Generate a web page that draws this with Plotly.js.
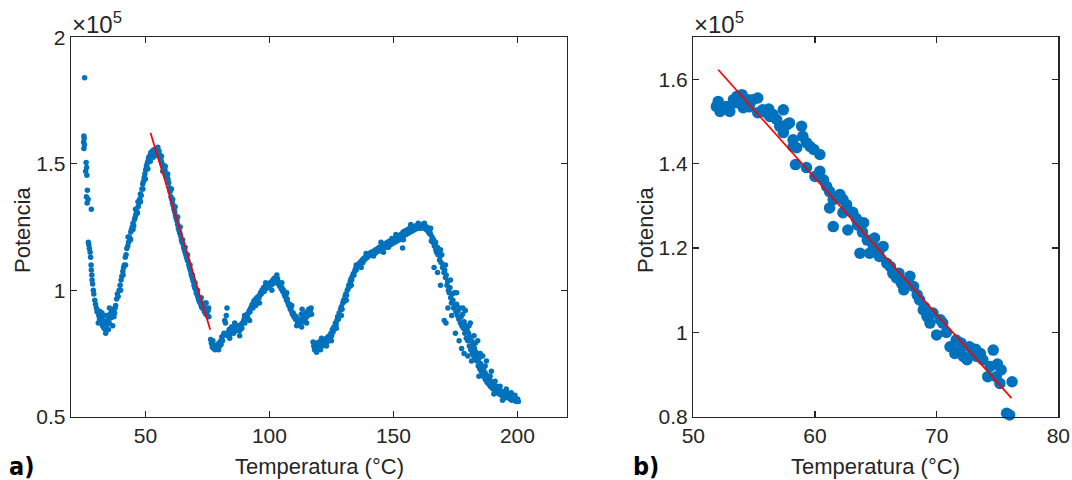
<!DOCTYPE html>
<html>
<head>
<meta charset="utf-8">
<script src="https://cdn.plot.ly/plotly-3.0.1.min.js"></script>
<style>html,body{margin:0;padding:0;background:#fff;}#chart{width:1072px;height:480px;}</style>
</head>
<body>
<div id="chart"></div>
<script>
// ---- Panel a): full scan (Potencia in units of 1e5) ----
const tempA1 = [
 25.5,25.2,25.3,25.1,25.4,25.2,26.1,26.3,25.9,26.4,
 26.6,26.2,26.9,26.5,28.2,27.0,27.2,27.4,27.7,27.9,
 28.1,28.2,28.4,28.5,28.7,29.0,29.2,29.6,29.9,30.2,
 30.5,30.9,31.2,31.5,31.8,32.1,32.4,32.7,33.0,33.3,
 33.6,33.9,34.2,34.5,34.8,35.1,35.4,35.7,36.0,36.3,
 36.6,37.0,37.3,37.6,38.0,38.4,38.7,39.0,39.4,39.8,
 40.2,40.5,40.9,41.2,41.5,41.9,42.2,42.5,42.9,43.2,
 43.5,43.8,44.1,44.4,44.7,45.0,45.3,45.6,45.9,46.2,
 46.5,46.8,47.1,47.4,47.7,48.0,48.3,48.6,48.9,49.2,
 49.5,49.8,50.1,50.4,50.7,51.0,51.3,51.6,51.9,52.2,
 52.5,52.8,53.1,53.4,53.7,54.0,54.3,54.6,54.9,55.2,
 55.5,55.8,56.1,56.4,56.7,57.0,57.3,57.6,57.9,58.2,
 58.5,58.8,59.1,59.4,59.7,60.0,60.3,60.6,60.9,61.2,
 61.5,61.8,62.1,62.4,62.7,63.0,63.3,63.6,63.9,64.2,
 64.5,64.8,65.1,65.4,65.7,66.0,66.3,66.6,66.9,67.2,
 67.5,67.8,68.1,68.4,68.7,69.0,69.3,69.6,69.9,70.2,
 70.5,70.8,71.1,71.4,71.7,72.0,72.3,72.6,72.9,73.2,
 73.5,73.8,74.1,74.4,74.7,75.0,75.3,75.6
];
const powA1 = [
 1.84,1.61,1.60,1.585,1.575,1.56,1.505,1.485,1.47,1.455,
 1.395,1.37,1.36,1.345,1.32,1.19,1.18,1.165,1.15,1.13,
 1.10,1.08,1.06,1.04,1.025,1.00,0.985,0.96,0.945,0.93,
 0.915,0.92,0.90,0.885,0.915,0.875,0.895,0.86,0.88,0.85,
 0.87,0.845,0.9,0.865,0.88,0.845,0.87,0.905,0.89,0.915,
 0.9,0.925,0.895,0.91,0.94,0.965,0.985,0.975,1.0,1.02,
 1.04,1.055,1.075,1.09,1.10,1.13,1.14,1.165,1.175,1.19,
 1.21,1.205,1.23,1.24,1.25,1.265,1.255,1.28,1.29,1.30,
 1.31,1.305,1.33,1.345,1.36,1.38,1.375,1.40,1.42,1.43,
 1.445,1.46,1.475,1.49,1.50,1.51,1.525,1.52,1.535,1.545,
 1.54,1.55,1.545,1.555,1.55,1.545,1.555,1.56,1.55,1.545,
 1.53,1.535,1.52,1.51,1.50,1.495,1.49,1.49,1.475,1.46,
 1.45,1.455,1.44,1.425,1.405,1.39,1.37,1.36,1.345,1.335,
 1.32,1.31,1.295,1.285,1.275,1.26,1.245,1.235,1.225,1.215,
 1.20,1.19,1.185,1.17,1.16,1.15,1.14,1.13,1.12,1.115,
 1.10,1.09,1.08,1.065,1.055,1.045,1.035,1.02,1.01,1.005,
 0.99,0.985,0.975,0.965,0.955,0.96,0.945,0.935,0.93,0.945,
 0.925,0.915,0.93,0.905,0.915,0.90,0.92,0.895
];
const tempA2 = [
 76.3,76.6,76.9,77.2,77.5,77.8,78.1,78.4,78.7,79.0,
 79.3,79.6,79.9,80.2,80.5,80.8,81.1,81.4,81.7,82.0,
 82.3,82.6,82.9,83.2,83.5,83.8,84.1,84.4,84.7,85.0,
 85.3,85.6,85.9,86.2,86.5,86.8,87.1,87.4,87.7,88.0,
 88.3,88.6,88.9,89.2,89.5,89.8,90.1,90.4,90.7,91.0,
 91.3,91.6,91.9,92.2,92.5,92.8,93.1,93.4,93.7,94.0,
 94.3,94.6,94.9,95.2,95.5,95.8,96.1,96.4,96.7,97.0,
 97.3,97.6,97.9,98.2,98.5,98.8,99.1,99.4,99.7,100.0,
 100.3,100.6,100.9,101.2,101.5,101.8,102.1,102.4,102.7,103.0,
 103.3,103.6,103.9,104.2,104.5,104.8,105.1,105.4,105.7,106.0,
 106.3,106.6,106.9,107.2,107.5,107.8,108.1,108.4,108.7,109.0,
 109.3,109.6,109.9,110.2,110.5,110.8,111.1,111.4,111.7,112.0,
 112.3,112.6,112.9,113.2,113.5,113.8,114.1,114.4,114.7,115.0,
 115.3,115.6,115.9,116.2,116.5,116.8
];
const powA2 = [
 0.805,0.79,0.785,0.80,0.77,0.78,0.765,0.775,0.77,0.785,
 0.775,0.79,0.78,0.795,0.80,0.815,0.80,0.82,0.83,0.88,
 0.87,0.90,0.93,0.82,0.835,0.845,0.825,0.84,0.855,0.835,
 0.85,0.83,0.845,0.855,0.84,0.85,0.86,0.845,0.855,0.84,
 0.86,0.865,0.85,0.87,0.875,0.885,0.87,0.89,0.895,0.905,
 0.89,0.91,0.92,0.915,0.93,0.935,0.945,0.93,0.955,0.96,
 0.95,0.965,0.97,0.96,0.975,0.97,0.98,0.99,0.985,1.0,
 1.0,1.01,0.995,1.015,1.005,1.02,1.01,1.025,1.015,1.02,
 1.03,1.02,1.035,1.025,1.04,1.045,1.03,1.05,1.04,1.035,
 1.045,1.025,1.03,1.015,1.02,1.005,1.01,0.995,1.0,0.985,
 0.975,0.98,0.96,0.965,0.95,0.94,0.945,0.925,0.93,0.915,
 0.905,0.91,0.895,0.90,0.885,0.895,0.88,0.87,0.885,0.865,
 0.88,0.87,0.905,0.925,0.89,0.875,0.90,0.885,0.91,0.895,
 0.915,0.90,0.925,0.91,0.92,0.93
];
const tempA3 = [
 117.6,117.9,118.2,118.5,118.8,119.1,119.4,119.7,120.0,120.3,
 120.6,120.9,121.2,121.5,121.8,122.1,122.4,122.7,123.0,123.3,
 123.6,123.9,124.2,124.5,124.8,125.1,125.4,125.7,126.0,126.3,
 126.6,126.9,127.2,127.5,127.8,128.1,128.4,128.7,129.0,129.3,
 129.6,129.9,130.2,130.5,130.8,131.1,131.4,131.7,132.0,132.3,
 132.6,132.9,133.2,133.5,133.8,134.1,134.4,134.7,135.0,135.3,
 135.6,135.9,136.2,136.5,136.8,137.1,137.4,137.7,138.0,138.3,
 138.6,138.9,139.2,139.5,139.8,140.1,140.4,140.7,141.0,141.3,
 141.6,141.9,142.2,142.5,142.8,143.1,143.4,143.7,144.0,144.3,
 144.6,144.9,145.2,145.5,145.8,146.1,146.4,146.7,147.0,147.3,
 147.6,147.9,148.2,148.5,148.8,149.1,149.4,149.7,150.0,150.3,
 150.6,150.9,151.2,151.5,151.8,152.1,152.4,152.7,153.0,153.3,
 153.6,153.9,154.2,154.5,154.8,155.1,155.4,155.7,156.0,156.3,
 156.6,156.9,157.2,157.5,157.8,158.1,158.4,158.7,159.0,159.3,
 159.6,159.9,160.2,160.5,160.8,161.1,161.4,161.7,162.0,162.3,
 162.6,162.9,163.2,163.5,163.8,164.1,164.4
];
const powA3 = [
 0.795,0.78,0.765,0.775,0.79,0.77,0.785,0.775,0.795,0.78,
 0.765,0.79,0.78,0.795,0.785,0.80,0.79,0.805,0.81,0.795,
 0.815,0.805,0.82,0.81,0.83,0.82,0.845,0.835,0.855,0.85,
 0.87,0.865,0.88,0.895,0.885,0.91,0.90,0.925,0.935,0.925,
 0.95,0.96,0.955,0.975,0.985,0.98,1.0,1.005,1.02,1.015,
 1.035,1.045,1.04,1.055,1.065,1.06,1.075,1.085,1.08,1.09,
 1.10,1.095,1.105,1.11,1.10,1.115,1.12,1.11,1.125,1.12,
 1.13,1.125,1.135,1.13,1.14,1.135,1.145,1.14,1.15,1.14,
 1.15,1.145,1.155,1.145,1.16,1.15,1.155,1.165,1.16,1.17,
 1.155,1.165,1.175,1.165,1.18,1.17,1.175,1.185,1.17,1.18,
 1.19,1.175,1.185,1.195,1.18,1.19,1.205,1.185,1.195,1.205,
 1.19,1.2,1.21,1.195,1.205,1.215,1.2,1.21,1.22,1.205,
 1.22,1.23,1.215,1.225,1.235,1.22,1.23,1.24,1.225,1.235,
 1.245,1.23,1.24,1.25,1.235,1.245,1.25,1.24,1.255,1.245,
 1.25,1.255,1.245,1.25,1.26,1.245,1.255,1.25,1.26,1.245,
 1.255,1.25,1.24,1.25,1.235,1.245,1.225
];
const tempA4 = [
 164.7,165.0,165.3,165.6,165.9,166.2,166.5,166.8,167.1,167.4,
 167.7,168.0,168.3,168.6,168.9,169.2,169.5,169.8,170.1,170.4,
 170.7,171.0,171.3,171.6,171.9,172.2,172.5,172.8,173.1,173.4,
 173.7,174.0,174.3,174.6,174.9,175.2,175.5,175.8,176.1,176.4,
 176.7,177.0,177.3,177.6,177.9,178.2,178.5,178.8,179.1,179.4,
 179.7,180.0,180.3,180.6,180.9,181.2,181.5,181.8,182.1,182.4,
 182.7,183.0,183.3,183.6,183.9,184.2,184.5,184.8,185.1,185.4,
 185.7,186.0,186.3,186.6,186.9,187.2,187.5,187.8,188.1,188.4,
 188.7,189.0,189.3,189.6,189.9,190.2,190.5,190.8,191.1,191.4,
 191.7,192.0,192.3,192.6,192.9,193.2,193.5,193.8,194.1,194.4,
 194.7,195.0,195.3,195.6,195.9,196.2,196.5,196.8,197.1,197.4,
 197.7,198.0,198.3,198.6,198.9,199.2,199.5,199.8,200.1,200.4
];
const powA4 = [
 1.23,1.22,1.195,1.21,1.19,1.20,1.175,1.18,1.16,1.15,
 1.17,1.14,1.155,1.12,1.135,1.11,1.14,1.09,1.10,1.07,
 1.08,1.05,1.06,1.02,1.035,1.0,0.99,1.01,0.97,0.95,
 0.985,0.96,0.93,0.99,0.94,0.915,0.945,0.90,0.92,0.885,
 0.93,0.87,0.895,0.86,0.905,0.85,0.875,0.83,0.86,0.81,
 0.845,0.80,0.83,0.78,0.815,0.765,0.80,0.75,0.785,0.74,
 0.77,0.73,0.755,0.72,0.74,0.70,0.73,0.69,0.71,0.68,
 0.70,0.665,0.69,0.655,0.675,0.645,0.665,0.635,0.655,0.63,
 0.645,0.62,0.64,0.615,0.63,0.61,0.625,0.605,0.615,0.60,
 0.62,0.595,0.61,0.59,0.605,0.595,0.585,0.60,0.59,0.58,
 0.595,0.585,0.575,0.60,0.58,0.59,0.575,0.585,0.57,0.58,
 0.565,0.575,0.57,0.58,0.565,0.57,0.56,0.565,0.57,0.56
];
const tempA5 = [
 53.0,55.0,57.0,59.0,61.0,63.0,65.0,67.0,69.0,71.0,
 74.0,44.0,46.0,48.0,50.0,42.0,40.0,52.0,166.4,167.8,
 169.0,170.5,171.2,172.0,173.5,175.0,176.5,177.5,178.5,180.0,
 181.5,182.5,184.0,186.0,187.5,189.5,179.0,181.0,153.7,146.0
];
const powA5 = [
 1.525,1.565,1.47,1.46,1.36,1.29,1.2,1.14,1.06,1.0,
 0.95,1.20,1.32,1.35,1.44,1.10,1.0,1.51,1.09,1.07,
 1.02,0.88,0.87,0.93,0.90,0.83,0.80,0.77,0.75,0.74,
 0.72,0.82,0.80,0.74,0.72,0.68,0.92,0.87,1.167,1.15
];
const tempA6 = [
 31.0,32.5,34.0,35.5,36.8,37.8,41.0,43.0,45.0,47.0,
 49.0,51.0,53.5,55.5,56.5,58.0,60.5,62.0,64.0,66.0,
 68.0,70.0,72.5,74.5,75.5,77.0,79.5,80.5,84.0,86.0,
 88.0,90.0,92.0,94.5,96.0,98.5,101.0,103.0,105.0,107.0,
 109.0,111.0,113.0,115.0,117.0,119.0,121.0,123.0,125.0,127.0,
 129.0,131.0,133.0,135.0,137.0,139.0,142.0,145.0,148.0,151.0,
 154.0,157.0,160.0,162.5,165.0,167.0,169.0,171.0,173.0,175.5,
 178.0,180.5,183.0,185.0,187.0,189.0,191.0,193.0,195.5,197.5,
 199.0,184.5,190.5,194.0
];
const powA6 = [
 0.87,0.91,0.83,0.93,0.86,0.93,1.06,1.21,1.24,1.35,
 1.40,1.48,1.53,1.55,1.53,1.49,1.40,1.33,1.25,1.17,
 1.10,1.03,0.97,0.95,0.93,0.775,0.765,0.785,0.81,0.87,
 0.82,0.90,0.88,0.94,0.95,1.03,1.0,1.06,1.03,0.99,
 0.94,0.86,0.855,0.87,0.905,0.755,0.81,0.78,0.80,0.85,
 0.90,0.96,1.02,1.10,1.09,1.145,1.135,1.19,1.17,1.22,
 1.20,1.26,1.265,1.265,1.245,1.19,1.16,1.10,1.04,0.99,
 0.93,0.86,0.79,0.75,0.70,0.66,0.64,0.62,0.61,0.595,
 0.585,0.66,0.59,0.565
];

// ---- Panel b): 52-76 °C zoom ----
const tempB = [
 52.05,51.9,52.2,52.1,52.7,53.0,53.3,53.6,54.0,54.25,
 54.1,54.5,54.9,55.3,55.3,55.7,56.0,56.3,56.55,56.85,
 57.4,57.1,57.7,57.9,57.4,58.2,58.9,59.0,59.3,58.2,
 58.5,58.4,59.3,59.6,59.9,60.4,60.0,60.4,60.7,60.96,
 61.2,61.2,61.5,62.05,62.3,62.6,62.3,61.5,62.7,63.1,
 63.5,63.9,64.3,64.9,65.3,63.7,64.5,64.8,65.6,65.3,
 65.9,66.2,66.4,66.7,67.1,67.3,67.8,68.1,68.4,68.6,
 68.9,69.2,69.45,69.7,70.0,70.3,70.5,71.1,71.6,71.5,
 71.9,72.2,72.5,72.7,73.0,73.3,73.6,73.8,74.4,74.65,
 74.2,74.9,75.3,75.2,76.2,75.75,76.0,53.5,54.6,56.2,
 63.4,64.0,66.9,67.5,69.0,70.8,72.0,73.2,75.0
];
const powB = [
 1.548,1.536,1.524,1.54,1.536,1.524,1.552,1.56,1.564,1.544,
 1.533,1.552,1.552,1.556,1.521,1.528,1.521,1.512,1.517,1.505,
 1.528,1.489,1.493,1.497,1.474,1.457,1.489,1.465,1.45,1.441,
 1.438,1.398,1.391,1.441,1.434,1.422,1.37,1.382,1.362,1.346,
 1.334,1.295,1.315,1.327,1.315,1.303,1.284,1.251,1.243,1.285,
 1.255,1.238,1.219,1.224,1.196,1.188,1.188,1.204,1.204,1.18,
 1.164,1.156,1.14,1.129,1.117,1.101,1.133,1.109,1.089,1.077,
 1.053,1.038,1.022,1.046,0.994,1.03,1.022,0.966,0.982,0.95,
 0.958,0.943,0.935,0.966,0.95,0.943,0.95,0.935,0.919,0.958,
 0.895,0.895,0.911,0.879,0.883,0.808,0.804,1.545,1.535,1.53,
 1.27,1.26,1.14,1.12,1.06,1.0,0.975,0.96,0.925
];

// ---- Linear fit (red line) ----
const fitT = [52.05, 76.15];
const fitP = [1.623, 0.844];

// ---- Axis ticks and texts ----
const xTicksA = [50, 100, 150, 200];
const yTicksA = [0.5, 1, 1.5, 2];
const yTextA = ['0.5', '1', '1.5', '2'];
const xTicksB = [50, 60, 70, 80];
const yTicksB = [0.8, 1, 1.2, 1.4, 1.6];
const yTextB = ['0.8', '1', '1.2', '1.4', '1.6'];
const xLabel = 'Temperatura (°C)';
const yLabel = 'Potencia';
const expLabel = '×10<sup>5</sup>';
const panelLabels = ['a)', 'b)'];

const tempA = [].concat(tempA1, tempA2, tempA3, tempA4, tempA5, tempA6);
const powA = [].concat(powA1, powA2, powA3, powA4, powA5, powA6);

const BLUE = '#0072BD';
const INK = '#262626';
const FONT = 'Liberation Sans, Arial, Helvetica, sans-serif';
const W = 1072, H = 480;
const px = v => v / W;
const py = v => 1 - v / H;

const traces = [
  {x: tempA, y: powA, type: 'scatter', mode: 'markers', xaxis: 'x', yaxis: 'y',
   marker: {color: BLUE, size: 5.5}, hoverinfo: 'skip', cliponaxis: false},
  {x: fitT, y: fitP, type: 'scatter', mode: 'lines', xaxis: 'x', yaxis: 'y',
   line: {color: '#FF0000', width: 1.7}, hoverinfo: 'skip'},
  {x: tempB, y: powB, type: 'scatter', mode: 'markers', xaxis: 'x2', yaxis: 'y2',
   marker: {color: BLUE, size: 11.5}, hoverinfo: 'skip', cliponaxis: false},
  {x: fitT, y: fitP, type: 'scatter', mode: 'lines', xaxis: 'x2', yaxis: 'y2',
   line: {color: '#FF0000', width: 1.7}, hoverinfo: 'skip'}
];

function ax(extra) {
  return Object.assign({
    showline: true, linecolor: INK, linewidth: 1.3, mirror: 'ticks',
    ticks: 'inside', ticklen: 6, tickwidth: 1.3, tickcolor: INK,
    showgrid: false, zeroline: false, fixedrange: true,
    tickfont: {family: FONT, size: 21, color: INK},
    tickmode: 'array'
  }, extra);
}

const yDom = [py(416.7), py(37.3)];
const tFont = {family: FONT, size: 22, color: INK};
const eFont = {family: FONT, size: 24, color: INK};
const pFont = {family: 'DejaVu Sans Condensed, DejaVu Sans, sans-serif', size: 25, color: '#000'};

const layout = {
  width: W, height: H,
  margin: {l: 0, r: 0, t: 0, b: 0},
  paper_bgcolor: '#ffffff', plot_bgcolor: '#ffffff',
  showlegend: false,
  font: {family: FONT, color: INK},
  xaxis: ax({domain: [px(71), px(567)], range: [20, 220], anchor: 'y',
    tickvals: xTicksA, ticktext: xTicksA.map(String)}),
  yaxis: ax({domain: yDom, range: [0.5, 2], anchor: 'x',
    tickvals: yTicksA, ticktext: yTextA}),
  xaxis2: ax({domain: [px(693.3), px(1058.3)], range: [50, 80], anchor: 'y2',
    tickvals: xTicksB, ticktext: xTicksB.map(String)}),
  yaxis2: ax({domain: yDom, range: [0.8, 1.7], anchor: 'x2',
    tickvals: yTicksB, ticktext: yTextB}),
  annotations: [
    {text: xLabel, xref: 'paper', yref: 'paper', x: px(319), y: py(466),
     xanchor: 'center', yanchor: 'middle', showarrow: false, font: tFont},
    {text: xLabel, xref: 'paper', yref: 'paper', x: px(875.8), y: py(466),
     xanchor: 'center', yanchor: 'middle', showarrow: false, font: tFont},
    {text: yLabel, xref: 'paper', yref: 'paper', x: px(22), y: py(230), textangle: -90,
     xanchor: 'center', yanchor: 'middle', showarrow: false, font: tFont},
    {text: yLabel, xref: 'paper', yref: 'paper', x: px(645), y: py(230), textangle: -90,
     xanchor: 'center', yanchor: 'middle', showarrow: false, font: tFont},
    {text: expLabel, xref: 'paper', yref: 'paper', x: px(70), y: py(40),
     xanchor: 'left', yanchor: 'bottom', showarrow: false, font: eFont},
    {text: expLabel, xref: 'paper', yref: 'paper', x: px(692), y: py(40),
     xanchor: 'left', yanchor: 'bottom', showarrow: false, font: eFont},
    {text: '<b>' + panelLabels[0] + '</b>', xref: 'paper', yref: 'paper', x: px(7), y: py(466),
     xanchor: 'left', yanchor: 'middle', showarrow: false, font: pFont},
    {text: '<b>' + panelLabels[1] + '</b>', xref: 'paper', yref: 'paper', x: px(631), y: py(466),
     xanchor: 'left', yanchor: 'middle', showarrow: false, font: pFont}
  ]
};

Plotly.newPlot('chart', traces, layout, {staticPlot: true, displayModeBar: false});
</script>
</body>
</html>
